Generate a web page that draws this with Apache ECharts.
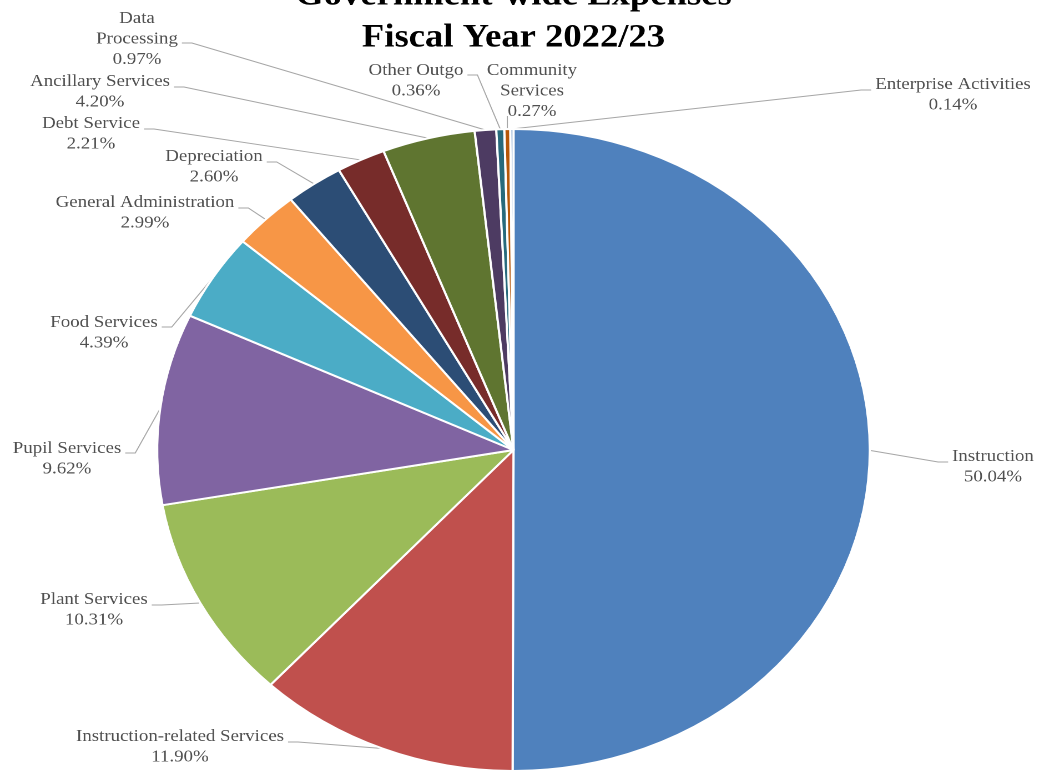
<!DOCTYPE html>
<html>
<head>
<meta charset="utf-8">
<script src="https://cdn.jsdelivr.net/npm/echarts@6/dist/echarts.min.js"></script>
<style>
html, body { margin: 0; padding: 0; background: #ffffff; overflow: hidden; }
#chart { width: 936px; height: 772px; transform: scaleX(1.11); transform-origin: 0 0; }
</style>
</head>
<body>
<div id="chart"></div>
<script>
// ---- data ----
const categories = [
  'Instruction', 'Instruction-related Services', 'Plant Services', 'Pupil Services',
  'Food Services', 'General Administration', 'Depreciation', 'Debt Service',
  'Ancillary Services', 'Data Processing', 'Other Outgo', 'Community Services',
  'Enterprise Activities'
];
const shares = [50.04, 11.90, 10.31, 9.62, 4.39, 2.99, 2.60, 2.21, 4.20, 0.97, 0.36, 0.27, 0.14];
const sliceColors = [
  '#4F81BD', '#C0504D', '#9BBB59', '#8064A2', '#4BACC6', '#F79646', '#2C4D75',
  '#772C2A', '#5F7530', '#4D3B62', '#276A7C', '#B65708', '#729ACA'
];
const titleLines = ['Government-wide Expenses', 'Fiscal Year 2022/23'];
const wrappedNames = ['Data Processing', 'Community Services'];

// ---- layout (not data) ----
const SX = 1.11; // horizontal stretch of the original picture
// label placement in screen px: [centerX, centerY, side of leader line, leader y]
const labelPlace = [
  [993, 467, 'left', 462],
  [180, 747, 'right', 742],
  [94, 610, 'right', 605],
  [67, 459, 'right', 453],
  [104, 333, 'right', 327],
  [145, 213, 'right', 208],
  [214, 167, 'right', 162],
  [91, 134, 'right', 129],
  [100, 92, 'right', 87],
  [137, 39, 'right', 43],
  [416, 81, 'right', 75],
  [532, 91, 'bottom', 116],
  [953, 95, 'left', 90]
];

const FONT = "'Times New Roman', 'Liberation Serif', 'DejaVu Serif', serif";

const chart = echarts.init(document.getElementById('chart'), null, { renderer: 'canvas', devicePixelRatio: 2 });

chart.setOption({
  animation: false,
  backgroundColor: '#ffffff',
  title: {
    text: titleLines.join('\n'),
    left: 462.6,
    top: -25,
    textAlign: 'center',
    padding: 0,
    textStyle: {
      fontFamily: FONT,
      fontWeight: 'bold',
      fontSize: 33,
      lineHeight: 42,
      color: '#000000'
    }
  },
  series: [{
    type: 'pie',
    center: [462.6, 450],
    radius: 321,
    startAngle: 90,
    clockwise: true,
    avoidLabelOverlap: false,
    data: categories.map((c, i) => ({ name: c, value: shares[i], itemStyle: { color: sliceColors[i] } })),
    itemStyle: { borderColor: '#ffffff', borderWidth: 2 },
    label: {
      show: true,
      position: 'outside',
      fontFamily: FONT,
      fontSize: 17,
      lineHeight: 20.5,
      color: '#505050',
      formatter: function (p) {
        const nm = wrappedNames.indexOf(p.name) >= 0 ? p.name.replace(' ', '\n') : p.name;
        return nm + '\n' + shares[p.dataIndex].toFixed(2) + '%';
      }
    },
    labelLine: {
      show: true,
      length: 10,
      length2: 10,
      lineStyle: { color: '#a6a6a6', width: 1 }
    },
    emphasis: { disabled: true },
    labelLayout: function (p) {
      const pl = labelPlace[p.dataIndex];
      const x = pl[0] / SX;
      const y = pl[1];
      const w = p.labelRect.width;
      const src = p.labelLinePoints && p.labelLinePoints[0];
      let pts;
      if (src) {
        const start = [src[0], src[1]];
        if (pl[2] === 'right') {
          const ax = x + w / 2 + 4 / SX;
          pts = [start, [ax + 10 / SX, pl[3]], [ax, pl[3]]];
        } else if (pl[2] === 'left') {
          const ax = x - w / 2 - 4 / SX;
          pts = [start, [ax - 10 / SX, pl[3]], [ax, pl[3]]];
        } else {
          pts = [start, [start[0], pl[3]], [start[0], pl[3]]];
        }
      }
      const out = { x: x, y: y, align: 'center', verticalAlign: 'middle' };
      if (pts) out.labelLinePoints = pts;
      return out;
    }
  }]
});
</script>
</body>
</html>
